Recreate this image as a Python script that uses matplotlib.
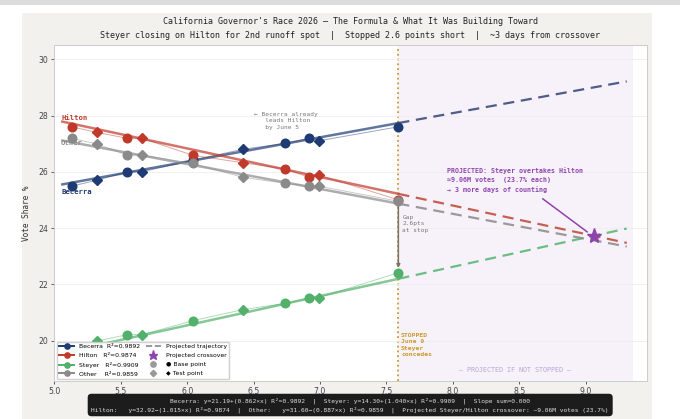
import numpy as np
import matplotlib.pyplot as plt
from matplotlib.lines import Line2D
from matplotlib.patches import Rectangle

# values
names = ['Becerra', 'Hilton', 'Steyer', 'Other']
colors = ['#1f3b73', '#c0392b', '#52b06a', '#8a8a8a']
dash_colors = ['#3d4b7c', '#c0503f', '#5cb878', '#8f8f8f']

x_base = [5.13, 5.55, 6.04, 6.74, 6.92, 7.59]
x_test = [5.32, 5.66, 6.42, 6.99]

base_vals = {
    'Becerra': [25.49, 26.00, 26.41, 27.01, 27.19, 27.60],
    'Hilton':  [27.60, 27.19, 26.59, 26.10, 25.80, 25.00],
    'Steyer':  [19.70, 20.21, 20.70, 21.32, 21.52, 22.41],
    'Other':   [27.19, 26.59, 26.30, 25.59, 25.49, 24.95],
}
test_vals = {
    'Becerra': [25.70, 26.00, 26.80, 27.10],
    'Hilton':  [27.40, 27.19, 26.32, 25.89],
    'Steyer':  [19.98, 20.21, 21.10, 21.52],
    'Other':   [26.99, 26.59, 25.80, 25.49],
}

intercepts = [21.19, 32.92, 14.30, 31.60]
slopes = [0.862, -1.015, 1.040, -0.887]
r2 = [0.9892, 0.9874, 0.9909, 0.9859]

x_stop = 7.59
x_cross = 9.06
y_cross = 23.72
x_fit_start = 5.06
x_proj_end = 9.31

fig = plt.figure(figsize=(6.8, 4.19), dpi=100, facecolor='white')
# screenshot-like backdrop
fig.patches.append(Rectangle((22/680, 0), 630/680, 406/419, transform=fig.transFigure,
                             facecolor='#f2f1ee', edgecolor='none', zorder=-10))
fig.patches.append(Rectangle((0, 1-5/419), 1, 5/419, transform=fig.transFigure,
                             facecolor='#dcdcdc', edgecolor='none', zorder=-10))

ax = fig.add_axes([0.080, 0.0907, 0.871, 0.802])
ax.set_facecolor('white')
ax.set_xlim(5.0, 9.46)
ax.set_ylim(18.56, 30.51)

ax.axvspan(x_stop, 9.36, color='#f7f2fa', zorder=0, lw=0)
ax.axvline(x_stop, color='#cc9a2e', ls=':', lw=1.3, zorder=1)
ax.grid(axis='y', color='#eeeeee', lw=0.6, zorder=0)

for i, n in enumerate(names):
    c = colors[i]
    xs = np.array(x_base + x_test)
    ys = np.array(base_vals[n] + test_vals[n])
    o = np.argsort(xs)
    ax.plot(xs[o], ys[o], color=c, lw=0.7, alpha=0.45, zorder=2)
    xf = np.array([x_fit_start, x_stop])
    ax.plot(xf, intercepts[i] + slopes[i]*xf, color=c, lw=1.8, alpha=0.7, zorder=2)
    xp = np.array([x_stop, x_proj_end])
    ax.plot(xp, intercepts[i] + slopes[i]*xp, color=dash_colors[i], lw=1.6, ls=(0, (5, 3)), alpha=0.9, zorder=2)
    ax.plot(x_base, base_vals[n], 'o', color=c, ms=6.2, zorder=4)
    ax.plot(x_test, test_vals[n], 'D', color=c, ms=5, zorder=4)

ax.plot(x_cross, y_cross, marker='*', ms=11, color='#8e44ad', zorder=6, ls='none')

mono = 'DejaVu Sans Mono'
ax.text(5.05, 27.91, 'Hilton', color=colors[1], fontsize=5.2, fontweight='bold', family=mono, va='center')
ax.text(5.05, 27.02, 'Other', color=colors[3], fontsize=5.2, fontweight='bold', family=mono, va='center')
ax.text(5.05, 25.29, 'Becerra', color=colors[0], fontsize=5.2, fontweight='bold', family=mono, va='center')

ax.text(6.50, 28.13, '← Becerra already\n   leads Hilton\n   by June 5', color='#777777',
        fontsize=4.4, family=mono, va='top', ha='left', linespacing=1.4)

ax.annotate('', xy=(x_stop, 22.48), xytext=(x_stop, 24.92),
            arrowprops=dict(arrowstyle='-|>', color='#7a7263', lw=1.1, mutation_scale=5), zorder=3)
ax.text(7.62, 24.47, 'Gap\n2.6pts\nat stop', color='#777777', fontsize=4.4, family=mono,
        va='top', ha='left', linespacing=1.4)

ax.text(7.96, 26.16, 'PROJECTED: Steyer overtakes Hilton\n≈9.06M votes  (23.7% each)\n→ 3 more days of counting',
        color='#8e44ad', fontsize=4.8, fontweight='bold', family=mono, va='top', ha='left', linespacing=1.5)
ax.annotate('', xy=(x_cross - 0.03, y_cross + 0.08), xytext=(8.66, 25.10),
            arrowprops=dict(arrowstyle='-', color='#8e44ad', lw=1.1), zorder=5)

ax.text(7.61, 20.26, 'STOPPED\nJune 9\nSteyer\nconcedes', color='#cc9a2e', fontsize=4.6,
        fontweight='bold', family=mono, va='top', ha='left', linespacing=1.3)
ax.text(8.47, 18.94, '— PROJECTED IF NOT STOPPED —', color='#b9a3d9', fontsize=4.8,
        family=mono, va='center', ha='center')

ax.set_xticks(np.arange(5.0, 9.01, 0.5))
ax.set_yticks(np.arange(20, 30.1, 2))
ax.set_xticklabels([f'{v:.1f}' for v in np.arange(5.0, 9.01, 0.5)])
ax.tick_params(labelsize=5.6, colors='#444444', length=2.5, width=0.6, pad=2)
for s in ax.spines.values():
    s.set_color('#cccccc')
    s.set_linewidth(0.7)
ax.set_ylabel('Vote Share %', fontsize=5.6, family=mono, color='#333333', labelpad=5)

handles = []
for i, n in enumerate(names):
    handles.append(Line2D([0], [0], color=colors[i], marker='o', ms=3.8, lw=1.4,
                          label=f'{n:<8} R²={r2[i]:.4f}'))
handles.append(Line2D([0], [0], color='#888888', ls='--', lw=1.2, label='Projected trajectory'))
handles.append(Line2D([0], [0], color='#8e44ad', marker='*', ms=6.5, ls='none', label='Projected crossover'))
handles.append(Line2D([0], [0], color='#999999', marker='o', ms=3.8, ls='none', label='● Base point'))
handles.append(Line2D([0], [0], color='#999999', marker='D', ms=3.2, ls='none', label='◆ Test point'))
leg = ax.legend(handles=handles, ncol=2, loc='lower left', bbox_to_anchor=(0.004, 0.006),
                borderaxespad=0, fontsize=4.4, handlelength=2.4, columnspacing=1.0,
                labelspacing=0.58, framealpha=0.92, edgecolor='#cccccc', fancybox=True)
leg.set_zorder(7)

fig.text(0.515, 1 - 22/419, "California Governor's Race 2026 — The Formula & What It Was Building Toward",
         ha='center', va='center', fontsize=6, family=mono, color='#222222')
fig.text(0.515, 1 - 35/419, 'Steyer closing on Hilton for 2nd runoff spot  |  Stopped 2.6 points short  |  ~3 days from crossover',
         ha='center', va='center', fontsize=6, family=mono, color='#222222')

box_txt = ('Becerra: y=21.19+(0.862×x) R²=0.9892  |  Steyer: y=14.30+(1.040×x) R²=0.9909  |  Slope sum=0.000\n'
           'Hilton:   y=32.92−(1.015×x) R²=0.9874  |  Other:   y=31.60−(0.887×x) R²=0.9859  |  '
           'Projected Steyer/Hilton crossover: ~9.06M votes (23.7%)')
fig.text(0.515, 1 - 405/419, box_txt, ha='center', va='center', fontsize=4.5, family=mono,
         color='#dddddd', linespacing=1.4, multialignment='center',
         bbox=dict(boxstyle='round,pad=0.6', facecolor='#1c1c1c', edgecolor='none'))

fig.savefig('out.png', dpi=100, facecolor=fig.get_facecolor())
